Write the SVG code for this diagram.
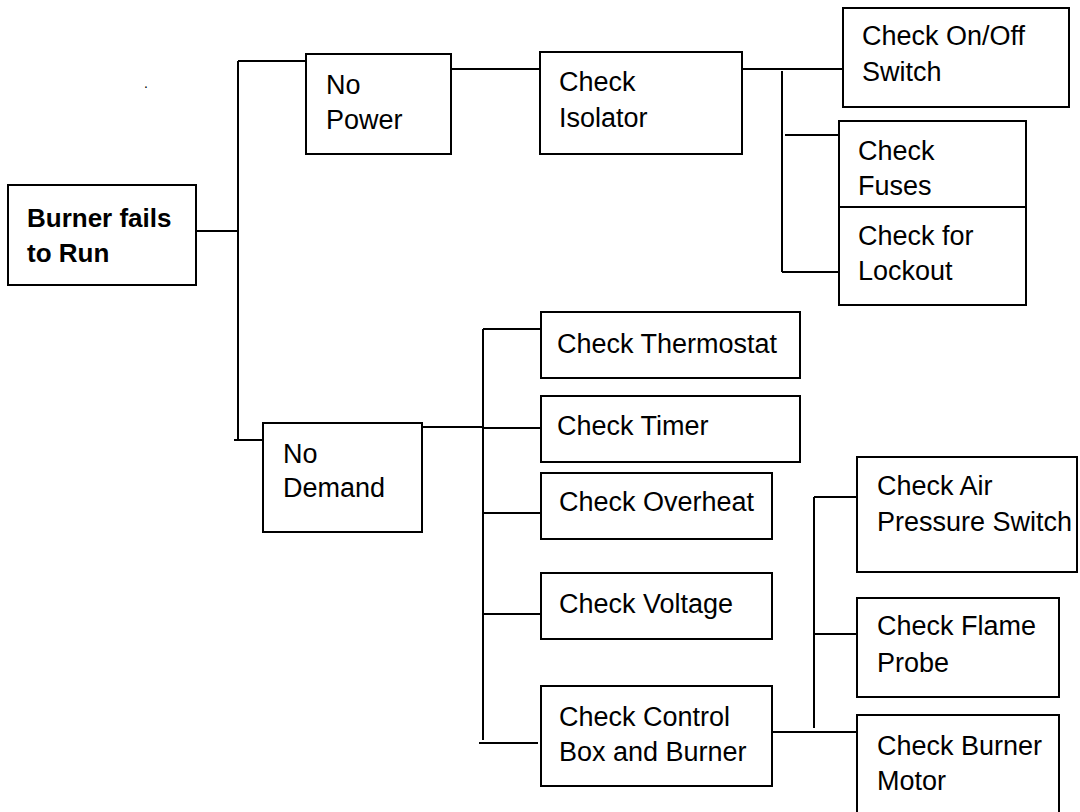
<svg xmlns="http://www.w3.org/2000/svg" width="1080" height="812" viewBox="0 0 1080 812">
<style>
.box{fill:#fff;stroke:#000;stroke-width:2}
.t{font-family:"Liberation Sans",Arial,sans-serif;font-size:27px;fill:#000}
.b{font-family:"Liberation Sans",Arial,sans-serif;font-size:26px;font-weight:bold;fill:#000}
.c{fill:none;stroke:#000;stroke-width:2}
</style>
<rect width="1080" height="812" fill="#fff"/>
<g id="connectors" class="c">
<path d="M196 231H238"/>
<path d="M238 61V440"/>
<path d="M238 61H311"/>
<path d="M234 440H263"/>
<path d="M451 69H541"/>
<path d="M742 69H843"/>
<path d="M782 71V272"/>
<path d="M785 135H843"/>
<path d="M782 272H839"/>
<path d="M422 427H483"/>
<path d="M483 329V740"/>
<path d="M483 329H541"/>
<path d="M483 428H541"/>
<path d="M483 513H541"/>
<path d="M483 614H541"/>
<path d="M479 743H538"/>
<path d="M772 732H857"/>
<path d="M814 497V728"/>
<path d="M814 497H857"/>
<path d="M814 634H857"/>
</g>
<text class="t" x="144" y="88" style="font-size:14px">.</text>
<g id="burner">
<rect class="box" x="8" y="185" width="188" height="100"/>
<text class="b" x="27" y="227">Burner fails</text>
<text class="b" x="27" y="262">to Run</text>
</g>
<g id="no-power">
<rect class="box" x="306" y="54" width="145" height="100"/>
<text class="t" x="326" y="94">No</text>
<text class="t" x="326" y="129">Power</text>
</g>
<g id="isolator">
<rect class="box" x="540" y="52" width="202" height="102"/>
<text class="t" x="559" y="91">Check</text>
<text class="t" x="559" y="127">Isolator</text>
</g>
<g id="onoff">
<rect class="box" x="843" y="8" width="226" height="99"/>
<text class="t" x="862" y="45">Check On/Off</text>
<text class="t" x="862" y="81">Switch</text>
</g>
<g id="fuses">
<rect class="box" x="839" y="121" width="187" height="86"/>
<text class="t" x="858" y="160">Check</text>
<text class="t" x="858" y="195">Fuses</text>
</g>
<g id="lockout">
<rect class="box" x="839" y="207" width="187" height="98"/>
<text class="t" x="858" y="245">Check for</text>
<text class="t" x="858" y="280">Lockout</text>
</g>
<g id="no-demand">
<rect class="box" x="263" y="423" width="159" height="109"/>
<text class="t" x="283" y="463">No</text>
<text class="t" x="283" y="497">Demand</text>
</g>
<g id="thermostat">
<rect class="box" x="541" y="312" width="259" height="66"/>
<text class="t" x="557" y="353">Check Thermostat</text>
</g>
<g id="timer">
<rect class="box" x="541" y="396" width="259" height="66"/>
<text class="t" x="557" y="435">Check Timer</text>
</g>
<g id="overheat">
<rect class="box" x="541" y="473" width="231" height="66"/>
<text class="t" x="559" y="511">Check Overheat</text>
</g>
<g id="voltage">
<rect class="box" x="541" y="573" width="231" height="66"/>
<text class="t" x="559" y="613">Check Voltage</text>
</g>
<g id="control">
<rect class="box" x="541" y="686" width="231" height="100"/>
<text class="t" x="559" y="726">Check Control</text>
<text class="t" x="559" y="761">Box and Burner</text>
</g>
<g id="air">
<rect class="box" x="857" y="457" width="220" height="115"/>
<text class="t" x="877" y="495">Check Air</text>
<text class="t" x="877" y="531">Pressure Switch</text>
</g>
<g id="flame">
<rect class="box" x="857" y="598" width="202" height="99"/>
<text class="t" x="877" y="635">Check Flame</text>
<text class="t" x="877" y="672">Probe</text>
</g>
<g id="motor">
<rect class="box" x="857" y="715" width="202" height="110"/>
<text class="t" x="877" y="755">Check Burner</text>
<text class="t" x="877" y="790">Motor</text>
</g>
</svg>
